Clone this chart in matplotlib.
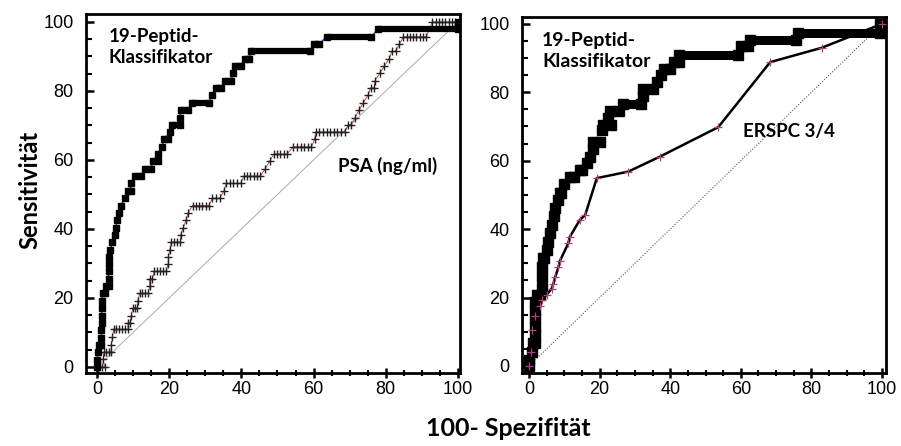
import matplotlib
matplotlib.use("Agg")
import matplotlib.pyplot as plt
from matplotlib.ticker import MultipleLocator

# 19-Peptid-Klassifikator (links)
pep_l_x = [0, 0, 0.4, 0.6, 1.2, 1.2, 1.2, 1.3, 1.3, 1.3, 1.3, 1.6, 2.2, 2.6, 3.2, 3.2, 3.2,
           3.3, 3.4, 3.7, 4.3, 4.9, 5.2, 5.6, 6.2, 6.6, 7.8, 8.6, 9.4, 9.4, 10.4, 12.1,
           13.2, 14.9, 15.5, 17.0, 17.0, 17.9, 18.7, 19.8, 20.3, 20.7, 22.9, 22.9, 23.4,
           25.3, 26.2, 31.1, 31.8, 33.0, 34.3, 35.5, 37.2, 37.7, 38.3, 40.0, 41.0, 42.0,
           42.8, 59.0, 60.0, 61.6, 63.6, 76.0, 77.8, 100, 100]
pep_l_y = [0, 2.1, 4.3, 6.4, 6.4, 8.5, 10.6, 12.8, 14.9, 17.0, 19.1, 21.3, 21.3, 23.4, 23.4,
           25.5, 27.7, 29.8, 31.9, 34.0, 36.2, 38.3, 40.4, 42.6, 44.7, 46.8, 48.9, 51.1,
           51.1, 53.2, 55.3, 55.3, 57.4, 57.4, 59.6, 59.6, 61.7, 63.8, 66.0, 66.0, 68.1,
           70.2, 70.2, 72.3, 74.5, 74.5, 76.6, 76.6, 78.7, 80.9, 80.9, 83.0, 83.0, 85.1,
           87.2, 87.2, 89.4, 89.4, 91.5, 91.5, 93.6, 93.6, 95.7, 95.7, 97.9, 97.9, 100]

# PSA (ng/ml)
psa_x = [0, 0.7, 1.4, 2.1, 1.7, 1.9, 2.6, 3.3, 3.9, 4.0, 4.3,
         4.6, 5.4, 6.2, 7.0, 7.8, 8.6, 8.6, 9.2, 9.5, 9.9, 10.6, 11.2, 11.3,
         11.8, 12.6, 13.4, 14.2, 14.6, 14.6, 15.3, 15.9, 16.7, 17.5, 18.3, 19.1,
         19.7, 19.8, 20.2, 20.6, 21.4, 22.2, 23.1, 23.2, 23.9, 24.7, 25.3,
         26.5, 27.4, 28.3, 29.2, 30.1, 31.0, 32.0, 33.0, 34.0, 35.2,
         35.8, 36.8, 37.8, 38.8, 39.8, 40.7, 41.6, 42.5, 43.4, 44.3, 45.2,
         46.6, 47.8, 49.0, 49.9, 50.8, 51.7, 52.6, 54.4, 55.4, 56.4, 57.4, 58.4, 59.4,
         60.3, 60.6, 61.6, 62.6, 63.6, 64.6, 65.6, 66.6, 67.6, 68.6, 69.6, 70.4,
         71.5, 72.6, 73.8, 75.0, 75.8, 76.8, 77.0, 78.3, 79.6, 81.0, 81.7, 82.7, 83.8,
         84.9, 85.8, 86.7, 87.6, 88.5, 89.4, 90.3, 91.2,
         92.9, 93.8, 94.7, 95.6, 96.5, 97.4, 98.3, 99.2]
psa_y = [0, 0, 0, 0, 2.3, 4.3, 4.3, 4.3, 4.3, 6.5, 8.7,
         10.9, 10.9, 10.9, 10.9, 10.9, 10.9, 12.8, 12.8, 14.9, 17.0, 17.0, 17.0, 19.1,
         21.3, 21.3, 21.3, 21.3, 23.4, 25.5, 25.5, 27.7, 27.7, 27.7, 27.7, 27.7,
         29.8, 31.9, 34.0, 36.2, 36.2, 36.2, 36.2, 38.3, 40.4, 42.6, 44.7,
         46.8, 46.8, 46.8, 46.8, 46.8, 46.8, 48.9, 48.9, 48.9, 51.1,
         53.2, 53.2, 53.2, 53.2, 53.2, 55.3, 55.3, 55.3, 55.3, 55.3, 55.3,
         57.4, 59.6, 61.7, 61.7, 61.7, 61.7, 61.7, 63.8, 63.8, 63.8, 63.8, 63.8, 63.8,
         66.0, 68.1, 68.1, 68.1, 68.1, 68.1, 68.1, 68.1, 68.1, 68.1, 70.2, 70.2,
         72.3, 74.5, 76.6, 78.7, 80.9, 80.9, 83.0, 85.1, 87.2, 89.4, 91.5, 91.5, 93.6,
         95.7, 95.7, 95.7, 95.7, 95.7, 95.7, 95.7, 95.7,
         100, 100, 100, 100, 100, 100, 100, 100]

# 19-Peptid-Klassifikator (rechts)
pep_r_x = [0, 0, 0.8, 1.0, 1.7, 1.7, 1.7, 1.8, 1.8, 1.8, 2.2, 3.0, 3.6, 3.6, 3.8, 4.0,
           4.2, 5.0, 5.5, 6.0, 6.5, 7.0, 7.4, 8.3, 8.9, 9.2, 10.0, 11.6, 12.8, 14.5,
           15.0, 16.3, 17.3, 18.2, 18.0, 20.0, 20.6, 21.0, 23.2, 22.4, 23.0, 25.5,
           26.5, 31.8, 32.4, 32.2, 35.0, 36.2, 37.3, 38.2, 40.0, 41.2, 42.6, 42.5, 59.1,
           60.0, 62.0, 62.5, 75.6, 76.2, 99.3, 99.4]
pep_r_y = [0, 1.8, 4.2, 6.6, 6.6, 9.0, 11.5, 13.9, 16.4, 18.8, 20.8, 20.8, 22.7, 26.1,
           29.0, 31.5, 31.5, 33.9, 36.3, 38.8, 41.2, 43.7, 46.1, 48.5, 50.7, 50.7, 53.2,
           55.3, 55.3, 57.4, 57.4, 59.3, 61.2, 63.4, 65.6, 65.6, 69.0, 70.3, 70.3,
           72.4, 74.6, 74.6, 76.6, 76.6, 78.8, 80.9, 80.9, 83.0, 84.9, 86.8, 86.8, 88.9,
           88.9, 91.0, 91.0, 93.4, 93.4, 95.3, 95.3, 97.3, 97.3, 100]

# ERSPC 3/4
erspc_x = [0, 0.5, 0.8, 1.7, 3.1, 3.6, 5.0, 6.4, 6.9, 7.4, 8.3, 8.8, 11.1, 11.6, 14.4,
           15.9, 19.2, 28.1, 37.1, 53.6, 68.3, 82.9, 100]
erspc_y = [0, 4.0, 10.5, 14.5, 17.4, 19.3, 20.8, 22.6, 24.0, 25.9, 28.8, 30.8, 35.8,
           37.8, 42.7, 44.1, 54.9, 56.8, 61.2, 69.8, 88.8, 93.0, 100]

diag = [0, 100]

plt.rcParams['font.family'] = ['Liberation Sans', 'DejaVu Sans']
lab_font = ['Lato', 'DejaVu Sans']

fig = plt.figure(figsize=(9.01, 4.46), dpi=100)
ax1 = fig.add_axes([0.0954, 0.1637, 0.4151, 0.8049])
ax2 = fig.add_axes([0.5793, 0.1637, 0.4040, 0.7982])


def hbars(ax, xs, ys, lw):
    # horizontale Abschnitte als dicke Balken
    for i in range(len(xs) - 1):
        if ys[i] == ys[i + 1] and xs[i + 1] > xs[i]:
            ax.plot([xs[i], xs[i + 1]], [ys[i], ys[i + 1]], color='black', lw=lw,
                    solid_capstyle='butt', zorder=3)


# linkes Diagramm
ax1.plot(diag, diag, color='#aaaaaa', lw=0.7, zorder=1)
ax1.plot(psa_x, psa_y, color='#cc3333', lw=0.6, zorder=2)
ax1.plot(psa_x, psa_y, ls='none', marker='+', ms=6, mew=1.0, color='#222222', zorder=3)
ax1.plot(pep_l_x, pep_l_y, color='#3030b0', lw=1.0, zorder=2)
hbars(ax1, pep_l_x, pep_l_y, 4.5)
ax1.plot(pep_l_x, pep_l_y, ls='none', marker='s', ms=5, color='black', zorder=4)
ax1.set_xlim(-3.05, 100.55)
ax1.set_ylim(-1.74, 102.3)

# rechtes Diagramm
ax2.plot(diag, diag, color='#555555', lw=0.8, ls=(0, (1, 1.5)), zorder=1)
ax2.plot(pep_r_x, pep_r_y, color='#cc3333', lw=0.8, ls=':', zorder=2)
hbars(ax2, pep_r_x, pep_r_y, 6.5)
ax2.plot(pep_r_x, pep_r_y, ls='none', marker='s', ms=7, color='black', zorder=4)
ax2.plot(erspc_x, erspc_y, color='black', lw=1.8, zorder=5)
ax2.plot(erspc_x, erspc_y, ls='none', marker='+', ms=6, mew=0.9, color='#b0407a', zorder=6)
ax2.set_xlim(-2.0, 101.1)
ax2.set_ylim(-2.05, 102.0)

for ax in (ax1, ax2):
    for s in ax.spines.values():
        s.set_linewidth(2.0)
    ax.xaxis.set_major_locator(MultipleLocator(20))
    ax.xaxis.set_minor_locator(MultipleLocator(5))
    ax.yaxis.set_major_locator(MultipleLocator(20))
    ax.yaxis.set_minor_locator(MultipleLocator(5))
    ax.tick_params(axis='x', which='major', direction='inout', length=7, width=1.8,
                   labelsize=13, pad=2)
    ax.tick_params(axis='x', which='minor', direction='inout', length=5, width=1.5)
    ax.tick_params(axis='y', which='major', direction='in', length=6, width=1.8,
                   labelsize=13, pad=9)
    ax.tick_params(axis='y', which='minor', direction='in', length=4, width=1.5)

ax1.text(3.3, 98.3, '19-Peptid-\nKlassifikator', family=lab_font, fontweight='bold',
         fontsize=13.5, ha='left', va='top', linespacing=1.3)
ax1.text(66.8, 56.5, 'PSA (ng/ml)', family=lab_font, fontweight='bold', fontsize=13.5,
         ha='left', va='baseline')
ax2.text(3.7, 97.7, '19-Peptid-\nKlassifikator', family=lab_font, fontweight='bold',
         fontsize=14, ha='left', va='top', linespacing=1.3)
ax2.text(60.6, 67.0, 'ERSPC 3/4', family=lab_font, fontweight='bold', fontsize=13.5,
         ha='left', va='baseline')

fig.text(0.033, 0.575, 'Sensitivität', family=lab_font, fontweight='bold', fontsize=17,
         rotation=90, ha='center', va='center')
fig.text(0.564, 0.04, '100- Spezifität', family=lab_font, fontweight='bold', fontsize=18,
         ha='center', va='center')

fig.savefig('out.png', dpi=100)
